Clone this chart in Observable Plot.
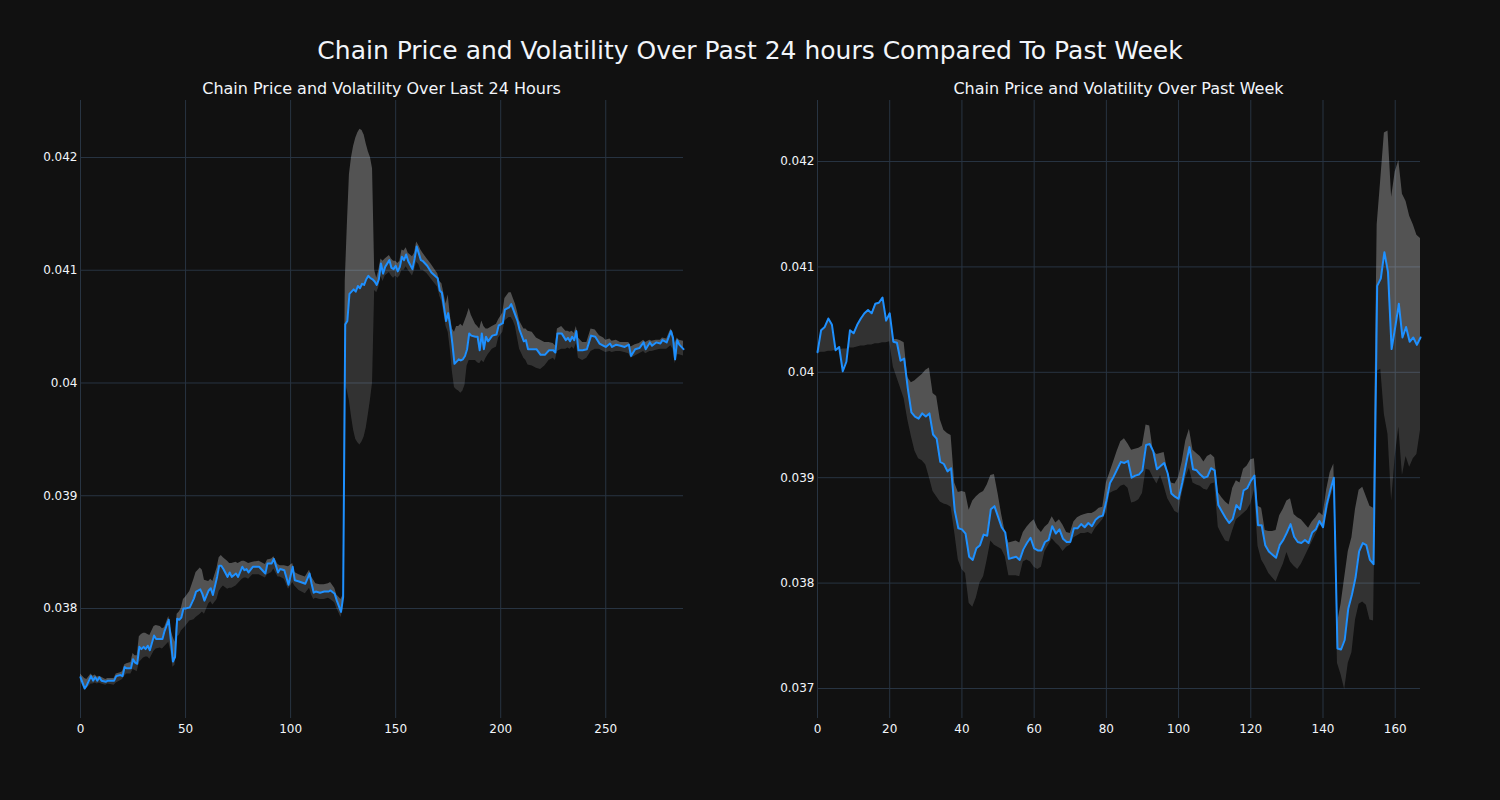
<!DOCTYPE html>
<html><head><meta charset="utf-8">
<script src="https://cdn.jsdelivr.net/npm/d3@7"></script>
<script src="https://cdn.jsdelivr.net/npm/@observablehq/plot@0.6"></script>
<style>
html,body{margin:0;padding:0;background:#111111;}
#root{position:relative;width:1500px;height:800px;background:#111111;font-family:"DejaVu Sans",sans-serif;color:#f2f5fa;overflow:hidden}
.t{position:absolute;white-space:nowrap;transform:translate(-50%,-50%);line-height:1}
#left,#right{position:absolute;top:0}
svg{display:block}
</style></head><body>
<div id="root">
<div class="t" style="left:750px;top:50px;font-size:25px">Chain Price and Volatility Over Past 24 hours Compared To Past Week</div>
<div class="t" style="left:381.5px;top:89px;font-size:16px">Chain Price and Volatility Over Last 24 Hours</div>
<div class="t" style="left:1118.5px;top:89px;font-size:16px">Chain Price and Volatility Over Past Week</div>
<div id="left" style="left:0px"></div>
<div id="right" style="left:750px"></div>
</div>
<script>
// ---- Last 24 hours (5-minute steps) ----
const dayX = [
0,2,3,5,6,7,8,9,10,12,
13,16,17,19,20,21,22,24,25,26,
27,28,29,30,31,32,33,35,36,38,
39,40,42,43,44,45,46,47,48,49,
50,52,54,55,57,58,59,61,62,63,
65,66,67,68,70,71,72,74,75,77,
78,79,80,82,85,88,89,91,92,94,
95,97,99,101,102,104,107,109,110,111,
112,114,116,118,119,121,122,124,125,126,
127,128,129,130,131,132,133,134,135,136,
137,138,139,140,141,142,143,144,145,147,
148,149,150,151,152,153,154,155,156,158,
159,160,161,162,163,165,167,170,171,172,
174,175,176,177,178,179,180,181,182,183,
184,185,186,188,189,190,191,192,193,194,
196,198,199,201,202,204,205,206,207,208,
209,211,212,213,215,217,219,221,223,225,
226,227,229,231,232,233,234,235,236,237,
239,241,243,245,247,249,250,252,253,255,
257,259,261,262,264,266,268,269,271,272,
274,276,277,279,281,282,283,284,285,287];
const dayPrice = [
.03739,.03729,.03732,.03740,.03736,.03739,.03736,.03739,.03736,.03735,
.03736,.03736,.03740,.03741,.03740,.03748,.03747,.03747,.03755,.03752,
.03751,.03766,.03764,.03766,.03764,.03767,.03763,.03776,.03773,.03773,
.03773,.03780,.03790,.03772,.03753,.03757,.03791,.03790,.03792,.03800,
.03800,.03801,.03809,.03815,.03817,.03813,.03807,.03816,.03818,.03812,
.03828,.03838,.03838,.03835,.03828,.03832,.03828,.03831,.03828,.03837,
.03834,.03835,.03832,.03837,.03837,.03831,.03840,.03840,.03844,.03832,
.03835,.03834,.03821,.03837,.03825,.03824,.03822,.03831,.03822,.03814,
.03815,.03814,.03815,.03815,.03816,.03813,.03807,.03797,.03810,.04052,
.04055,.04079,.04081,.04083,.04081,.04086,.04084,.04088,.04087,.04092,
.04095,.04093,.04092,.04090,.04087,.04092,.04106,.04097,.04103,.04109,
.04102,.04101,.04104,.04099,.04103,.04112,.04109,.04114,.04108,.04101,
.04110,.04121,.04115,.04109,.04108,.04104,.04098,.04093,.04082,.04080,
.04055,.04062,.04050,.04035,.04017,.04019,.04021,.04020,.04021,.04024,
.04030,.04044,.04042,.04041,.04041,.04029,.04044,.04030,.04041,.04037,
.04042,.04043,.04051,.04053,.04065,.04067,.04070,.04065,.04060,.04055,
.04047,.04037,.04038,.04030,.04030,.04030,.04025,.04025,.04029,.04029,
.04027,.04044,.04044,.04038,.04040,.04037,.04041,.04038,.04046,.04029,
.04029,.04030,.04042,.04041,.04035,.04033,.04032,.04035,.04032,.04034,
.04033,.04032,.04034,.04024,.04030,.04031,.04036,.04030,.04036,.04033,
.04036,.04035,.04038,.04036,.04046,.04040,.04021,.04038,.04034,.04030];
const dayUpper = [
.03742,.03738,.03737,.03742,.03740,.03741,.03739,.03740,.03739,.03737,
.03738,.03738,.03742,.03743,.03744,.03750,.03751,.03752,.03760,.03758,
.03758,.03775,.03777,.03778,.03778,.03777,.03776,.03784,.03785,.03784,
.03782,.03783,.03793,.03782,.03775,.03770,.03795,.03797,.03800,.03808,
.03810,.03815,.03826,.03832,.03836,.03834,.03825,.03824,.03826,.03824,
.03836,.03845,.03847,.03845,.03842,.03840,.03840,.03841,.03840,.03842,
.03842,.03841,.03840,.03841,.03842,.03839,.03843,.03844,.03846,.03839,
.03838,.03838,.03837,.03840,.03832,.03830,.03828,.03834,.03828,.03825,
.03822,.03821,.03821,.03822,.03823,.03818,.03812,.03808,.03812,.04090,
.04140,.04185,.04200,.04210,.04217,.04222,.04225,.04224,.04220,.04212,
.04205,.04200,.04190,.04100,.04093,.04100,.04110,.04108,.04110,.04113,
.04110,.04108,.04108,.04106,.04108,.04118,.04117,.04120,.04115,.04112,
.04115,.04125,.04122,.04118,.04115,.04110,.04105,.04097,.04090,.04088,
.04070,.04078,.04060,.04048,.04045,.04050,.04050,.04052,.04050,.04055,
.04060,.04066,.04060,.04052,.04050,.04048,.04055,.04050,.04048,.04048,
.04050,.04052,.04056,.04062,.04075,.04080,.04080,.04075,.04070,.04063,
.04055,.04048,.04048,.04046,.04045,.04040,.04038,.04036,.04036,.04035,
.04033,.04048,.04050,.04046,.04046,.04045,.04046,.04044,.04050,.04040,
.04036,.04036,.04048,.04047,.04042,.04040,.04038,.04039,.04037,.04038,
.04036,.04036,.04036,.04032,.04034,.04035,.04038,.04036,.04038,.04037,
.04038,.04038,.04040,.04039,.04048,.04045,.04035,.04040,.04038,.04037];
const dayLower = [
.03735,.03728,.03729,.03733,.03733,.03734,.03733,.03734,.03733,.03732,
.03733,.03732,.03734,.03736,.03737,.03740,.03742,.03742,.03746,.03745,
.03744,.03752,.03754,.03756,.03757,.03757,.03755,.03762,.03764,.03765,
.03764,.03766,.03770,.03762,.03748,.03750,.03775,.03776,.03780,.03782,
.03784,.03789,.03790,.03792,.03795,.03797,.03795,.03804,.03806,.03803,
.03808,.03815,.03818,.03820,.03817,.03818,.03818,.03820,.03822,.03826,
.03827,.03827,.03826,.03830,.03830,.03827,.03830,.03832,.03835,.03828,
.03828,.03826,.03817,.03823,.03820,.03816,.03813,.03818,.03812,.03808,
.03809,.03808,.03808,.03809,.03808,.03805,.03800,.03792,.03800,.04000,
.03993,.03984,.03970,.03958,.03950,.03947,.03945,.03948,.03952,.03960,
.03972,.03985,.04000,.04082,.04080,.04085,.04095,.04090,.04095,.04098,
.04095,.04093,.04095,.04093,.04095,.04100,.04100,.04103,.04100,.04095,
.04100,.04107,.04105,.04100,.04100,.04097,.04092,.04085,.04077,.04072,
.04050,.04045,.04030,.04010,.03996,.03994,.03993,.03991,.03993,.03998,
.04015,.04020,.04020,.04020,.04018,.04017,.04020,.04018,.04022,.04025,
.04030,.04032,.04040,.04045,.04055,.04058,.04058,.04055,.04050,.04040,
.04030,.04022,.04020,.04016,.04015,.04013,.04012,.04015,.04020,.04022,
.04020,.04028,.04030,.04030,.04031,.04030,.04032,.04030,.04035,.04022,
.04020,.04022,.04028,.04030,.04030,.04028,.04027,.04028,.04027,.04028,
.04028,.04027,.04026,.04022,.04024,.04026,.04028,.04026,.04028,.04028,
.04029,.04030,.04030,.04030,.04033,.04030,.04017,.04025,.04025,.04024];

// ---- Past week (hourly steps, index 0..167) ----
const weekPrice = [
.04019,.04040,.04043,.04051,.04045,.04021,.04024,.04001,.04010,.04040,
.04037,.04045,.04051,.04056,.04059,.04056,.04065,.04066,.04071,.04049,
.04056,.04029,.04028,.04011,.04013,.03985,.03962,.03958,.03956,.03961,
.03958,.03961,.03941,.03937,.03915,.03913,.03906,.03909,.03869,.03852,
.03851,.03847,.03825,.03822,.03833,.03836,.03846,.03845,.03870,.03873,
.03863,.03853,.03848,.03823,.03824,.03825,.03822,.03832,.03838,.03843,
.03833,.03831,.03831,.03839,.03841,.03854,.03847,.03851,.03842,.03839,
.03839,.03852,.03852,.03856,.03853,.03857,.03854,.03860,.03863,.03864,
.03878,.03895,.03901,.03908,.03915,.03914,.03916,.03900,.03902,.03903,
.03907,.03931,.03932,.03925,.03908,.03911,.03914,.03904,.03885,.03882,
.03880,.03895,.03912,.03929,.03908,.03907,.03903,.03900,.03901,.03909,
.03907,.03874,.03868,.03862,.03857,.03861,.03874,.03870,.03888,.03890,
.03897,.03902,.03855,.03855,.03836,.03830,.03827,.03824,.03836,.03841,
.03848,.03856,.03844,.03839,.03838,.03841,.03838,.03848,.03851,.03859,
.03853,.03874,.03888,.03900,.03738,.03737,.03746,.03776,.03789,.03805,
.03830,.03838,.03836,.03822,.03818,.04082,.04089,.04114,.04095,.04022,
.04043,.04065,.04033,.04043,.04029,.04033,.04026,.04033];
const weekUpper = [
null,null,null,null,null,null,null,null,null,null,
null,null,null,null,null,null,null,null,null,null,
.04058,.04031,.04031,.04030,.04028,.03995,.03990,.03992,.03995,.03998,
.04002,.04004,.03980,.03977,.03955,.03945,.03942,.03940,.03895,.03886,
.03887,.03886,.03869,.03878,.03882,.03885,.03887,.03893,.03902,.03903,
.03885,.03865,.03848,.03838,.03839,.03840,.03838,.03848,.03853,.03857,
.03860,.03852,.03848,.03853,.03856,.03863,.03857,.03860,.03855,.03848,
.03847,.03858,.03862,.03864,.03865,.03866,.03866,.03868,.03871,.03872,
.03895,.03905,.03915,.03925,.03934,.03937,.03932,.03926,.03927,.03928,
.03930,.03950,.03949,.03925,.03922,.03923,.03924,.03906,.03895,.03894,
.03900,.03915,.03935,.03946,.03926,.03923,.03920,.03915,.03920,.03922,
.03919,.03886,.03881,.03877,.03874,.03890,.03897,.03895,.03908,.03911,
.03917,.03918,.03873,.03871,.03850,.03849,.03849,.03850,.03864,.03870,
.03878,.03880,.03865,.03862,.03860,.03856,.03852,.03858,.03862,.03867,
.03864,.03888,.03905,.03913,.03762,.03780,.03805,.03830,.03843,.03870,
.03888,.03891,.03882,.03873,.03871,.04140,.04183,.04227,.04229,.04166,
.04190,.04201,.04169,.04162,.04148,.04140,.04130,.04127];
const weekLower = [
.04018,.04019,.04019,.04020,.04020,.04021,.04021,.04022,.04022,.04023,
.04023,.04024,.04025,.04025,.04026,.04026,.04027,.04027,.04028,.04028,
.04029,.04005,.03995,.03985,.03975,.03955,.03939,.03925,.03918,.03916,
.03912,.03900,.03887,.03882,.03877,.03875,.03874,.03872,.03848,.03822,
.03813,.03809,.03781,.03777,.03786,.03800,.03806,.03822,.03840,.03836,
.03834,.03832,.03825,.03807,.03807,.03807,.03806,.03820,.03822,.03820,
.03815,.03813,.03815,.03830,.03836,.03842,.03838,.03835,.03830,.03834,
.03836,.03843,.03845,.03847,.03847,.03848,.03846,.03852,.03856,.03860,
.03867,.03885,.03887,.03888,.03892,.03893,.03890,.03876,.03877,.03879,
.03885,.03908,.03907,.03900,.03894,.03902,.03892,.03880,.03874,.03868,
.03866,.03885,.03900,.03909,.03895,.03893,.03892,.03889,.03888,.03894,
.03895,.03853,.03846,.03840,.03839,.03850,.03860,.03863,.03866,.03869,
.03875,.03888,.03835,.03822,.03816,.03809,.03805,.03801,.03810,.03818,
.03829,.03820,.03816,.03813,.03818,.03825,.03832,.03839,.03846,.03853,
.03858,.03864,.03880,.03890,.03724,.03713,.03699,.03724,.03734,.03765,
.03780,.03782,.03779,.03765,.03764,.04001,.04003,.03960,.03941,.03878,
.03920,.03948,.03902,.03920,.03910,.03918,.03922,.03945];

const dayXTicks = [0, 50, 100, 150, 200, 250];
const weekXTicks = [0, 20, 40, 60, 80, 100, 120, 140, 160];
const dayYTicks = [0.038, 0.039, 0.040, 0.041, 0.042];
const weekYTicks = [0.037, 0.038, 0.039, 0.040, 0.041, 0.042];

function panel({x, price, upper, lower, xDomain, yDomain, xTicks, yTicks, marginLeft, marginRight}) {
  const rows = price.map((p, i) => ({x: x[i], price: p, upper: upper[i], lower: lower[i]}));
  return Plot.plot({
    width: 750, height: 800,
    marginTop: 100, marginBottom: 82, marginLeft, marginRight,
    style: {background: "transparent", color: "#f2f5fa", fontFamily: "'DejaVu Sans', sans-serif", fontSize: "12px", overflow: "visible"},
    x: {domain: xDomain},
    y: {domain: yDomain},
    marks: [
      Plot.gridX(xTicks, {stroke: "#283442", strokeOpacity: 1, strokeWidth: 1}),
      Plot.gridY(yTicks, {stroke: "#283442", strokeOpacity: 1, strokeWidth: 1}),
      Plot.areaY(rows, {x: "x", y1: "price", y2: "upper", fill: "#ffffff", fillOpacity: 0.28}),
      Plot.areaY(rows, {x: "x", y1: "lower", y2: "price", fill: "#ffffff", fillOpacity: 0.14}),
      Plot.lineY(rows, {x: "x", y: "price", stroke: "#1e90ff", strokeWidth: 2}),
      Plot.axisX(xTicks, {tickSize: 0, tickPadding: 6, label: null, fill: "#f2f5fa"}),
      Plot.axisY(yTicks, {tickSize: 0, tickPadding: 3, label: null, fill: "#f2f5fa", tickFormat: d => String(+d.toFixed(3))})
    ]
  });
}

document.getElementById("left").appendChild(panel({
  x: dayX, price: dayPrice, upper: dayUpper, lower: dayLower,
  xDomain: [0, 287], yDomain: [0.0370244, 0.0425055],
  xTicks: dayXTicks, yTicks: dayYTicks, marginLeft: 80, marginRight: 67
}));
document.getElementById("right").appendChild(panel({
  x: weekPrice.map((_, i) => i), price: weekPrice, upper: weekUpper, lower: weekLower,
  xDomain: [0, 167], yDomain: [0.0367154, 0.0425787],
  xTicks: weekXTicks, yTicks: weekYTicks, marginLeft: 67, marginRight: 80
}));
</script>
</body></html>
